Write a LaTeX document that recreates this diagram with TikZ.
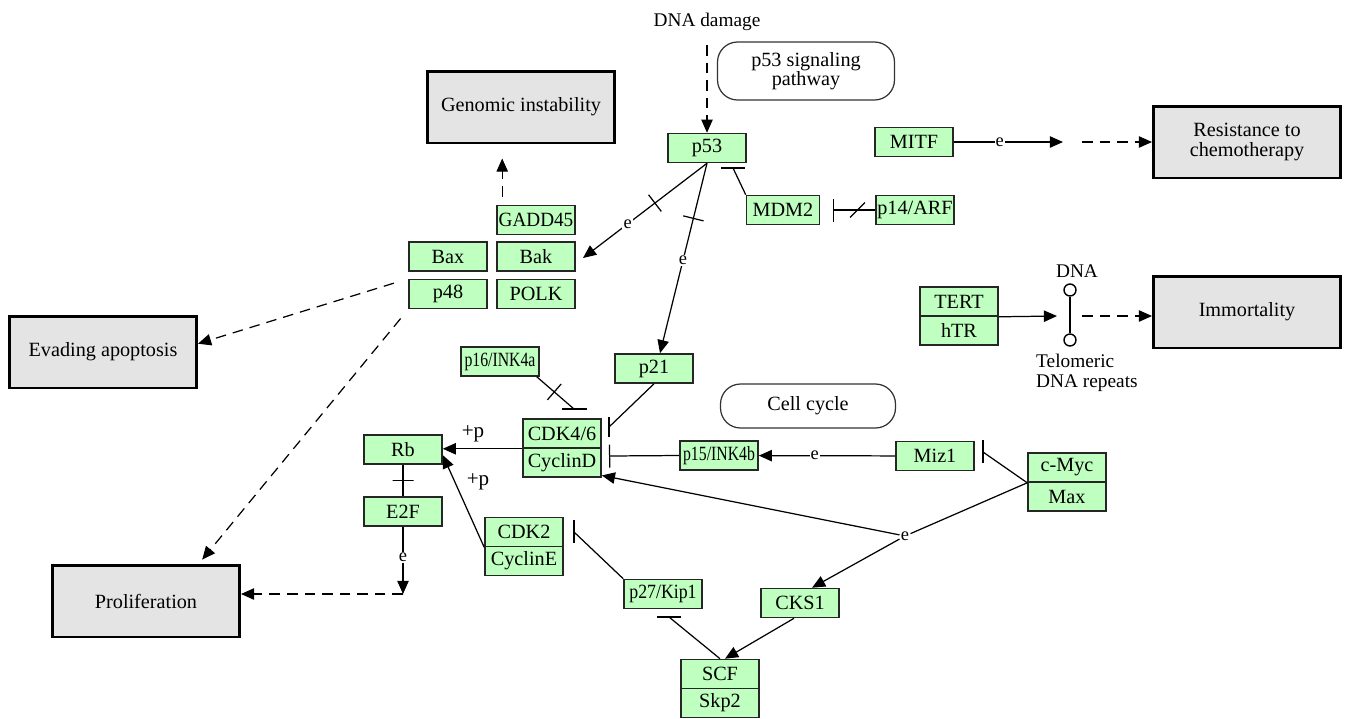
\documentclass[tikz,border=0pt]{standalone}
\usepackage{fontspec}
\usepackage{graphicx}
\setmainfont{Liberation Serif}
\usetikzlibrary{arrows.meta,calc}
\definecolor{genegreen}{RGB}{191,255,191}
\definecolor{outgray}{RGB}{228,228,228}
\tikzset{
  gene/.style={draw=black!85, line width=0.9pt, fill=genegreen, minimum width=1.56cm, minimum height=0.58cm, inner sep=0pt, font=\fontsize{11.5}{12}\selectfont},
  outcome/.style={draw, line width=1.7pt, fill=outgray, minimum width=3.74cm, minimum height=1.44cm, align=center, font=\fontsize{11.5}{11.5}\selectfont},
  pathmap/.style={draw=black!80, line width=0.7pt, rounded corners=0.4cm, align=center, font=\fontsize{11.5}{11}\selectfont},
  link/.style={line width=0.7pt},
  act/.style={link, -{Triangle[length=7.5pt,width=6.5pt]}},
  dashact/.style={act, dash pattern=on 6pt off 4pt},
  inhib/.style={link, -{Bar[width=0.46cm]}},
  elabel/.style={fill=white, inner sep=0.6pt, font=\fontsize{10.5}{10.5}\selectfont},
  tick/.style={sloped, draw, line width=0.7pt, minimum width=0pt, minimum height=0.42cm, inner sep=0pt},
  plain/.style={font=\fontsize{11}{11}\selectfont, align=center},
}
\newcommand{\squash}[2]{\scalebox{#1}[1]{#2}}
\begin{document}
\begin{tikzpicture}[x=0.02cm, y=-0.02cm]
\useasboundingbox (0,0) rectangle (1346,718);

% outcomes
\node[outcome] (genomic) at (521,107) {Genomic instability};
\node[outcome] (resist) at (1247,142) {Resistance to\\chemotherapy};
\node[outcome] (immortal) at (1247,312) {Immortality};
\node[outcome] (evading) at (103,352) {Evading apoptosis};
\node[outcome] (prolif) at (146,601) {Proliferation};

% pathway maps
\node[pathmap, minimum width=3.54cm, minimum height=1.16cm] (p53path) at (806,71) {p53 signaling\\pathway};
\node[pathmap, minimum width=3.5cm, minimum height=0.88cm] (cellcycle) at (808,406) {Cell cycle};

% genes
\node[gene] (p53) at (707,148) {p53};
\node[gene] (mitf) at (914,142) {MITF};
\node[gene, minimum width=1.46cm] (mdm2) at (783,210) {MDM2};
\node[gene] (p14) at (915,210) {p14/ARF};
\node[gene] (gadd45) at (536,220) {\squash{0.95}{GADD45}};
\node[gene] (bax) at (448,256.5) {Bax};
\node[gene] (bak) at (536,256.5) {Bak};
\node[gene] (p48) at (448,294) {p48};
\node[gene] (polk) at (536,294) {POLK};
\node[gene] (tert) at (959,301.5) {TERT};
\node[gene] (htr) at (959,330.5) {hTR};
\node[gene] (p21) at (654,368.5) {p21};
\node[gene] (p16) at (500,361.5) {\squash{0.78}{p16/INK4a}};
\node[gene] (cdk46) at (562,433.5) {CDK4/6};
\node[gene] (cycd) at (562,462.5) {CyclinD};
\node[gene] (rb) at (403,449.5) {Rb};
\node[gene] (e2f) at (403,511.5) {E2F};
\node[gene] (cdk2) at (524,532) {CDK2};
\node[gene] (cyce) at (524,561) {CyclinE};
\node[gene] (p15) at (719,455.5) {\squash{0.78}{p15/INK4b}};
\node[gene] (miz1) at (935,456) {Miz1};
\node[gene] (cmyc) at (1067,467.5) {c-Myc};
\node[gene] (max) at (1067,496.5) {Max};
\node[gene] (p27) at (663,594) {\squash{0.88}{p27/Kip1}};
\node[gene] (cks1) at (800,603) {CKS1};
\node[gene] (scf) at (720,674) {SCF};
\node[gene] (skp2) at (720,703) {Skp2};

% free texts
\node[plain] (dnadmg) at (707,22) {DNA damage};
\node[plain] (dnatxt) at (1077,271) {DNA};
\node[plain, align=left, anchor=west] (telo) at (1030,373) {Telomeric\\DNA repeats};
\node[font=\fontsize{12}{12}\selectfont] (plusa) at (473,434) {+p};
\node[font=\fontsize{12}{12}\selectfont] (plusb) at (478,482) {+p};

% telomeric DNA
\node[circle, draw, line width=0.8pt, minimum size=0.24cm, inner sep=0pt] (dnatop) at (1070,290) {};
\node[circle, draw, line width=0.8pt, minimum size=0.24cm, inner sep=0pt] (dnabot) at (1070,340) {};
\draw[link] (dnatop) -- (dnabot);

% free ends
\coordinate (mitftip) at (1063,142);
\coordinate (mitfgap) at (1082,142);
\coordinate (terttip) at (1057,316);
\coordinate (tertgap) at (1082,316);
\coordinate (baktip) at (583,258);
\coordinate (mdmbar) at (733,168);
\coordinate (p14bar) at (833,210);
\coordinate (p21bar) at (609,427);
\coordinate (p16bar) at (574,409);
\coordinate (p15bar) at (609,456);
\coordinate (p27bar) at (574,532);
\coordinate (scfbar) at (669,617);
\coordinate (mizbar) at (983,452);
\coordinate (e2fend) at (403,594);

% p53 block
\draw[dashact, shorten <=0.16cm] (dnadmg) -- (p53);
\draw[act] (p53.south) -- node[tick, pos=0.42] {} node[elabel, pos=0.64] {e} (baktip);
\draw[act] (p53.south) -- node[tick, pos=0.29] {} node[elabel, pos=0.51] {e} ([xshift=0.12cm]p21.north);
\draw[link] (mdm2.north west) -- (mdmbar);
\draw[link] (mdmbar) ++(-12,0) -- ++(24,0);
\draw[inhib] (p14.west) -- node[tick, pos=0.42, rotate=-45] {} (p14bar);
\draw[dashact, shorten <=0.16cm, shorten >=0.28cm] ([xshift=0.12cm]gadd45.north west) -- ([xshift=0.12cm]gadd45.north west |- genomic.south);
\draw[dashact, shorten <=0.3cm] (p48.north west) -- (evading.5);
\draw[dashact, shorten <=0.24cm, shorten >=0.1cm] (p48.south west) -- ([xshift=-0.84cm]prolif.north east);

% right side
\draw[act] (mitf) -- node[elabel, pos=0.42] {e} (mitftip);
\draw[dashact] (mitfgap) -- (resist);
\draw[act] (tert.south east) -- (terttip);
\draw[dashact] (tertgap) -- (tertgap -| immortal.west);

% cell cycle block
\draw[link] (p21.south) -- (p21bar);
\draw[link] (p21bar) ++(0,-10) -- ++(0,20);
\draw[link] ([xshift=-0.06cm]p16.south east) -- node[tick, pos=0.47] {} (p16bar);
\draw[link] (p16bar) ++(-12,0) -- ++(25,0);
\draw[inhib] (p15.west) -- (p15bar);
\draw[act] (miz1) -- node[elabel, pos=0.59] {e} (p15);
\draw[act] (cdk46.south west) -- (cdk46.south west -| rb.east);
\draw[act] (cdk2.south west) -- (rb.-8);
\draw[link] (rb) -- node[tick] {} (e2f);
\draw[act] (e2f) -- node[elabel, pos=0.46] {e} (e2fend);
\draw[dashact] (e2fend) -- (e2fend -| prolif.east);
\draw[link] (p27.north west) -- (p27bar);
\draw[link] (p27bar) ++(0,-12) -- ++(0,23);
\draw[link] (scf.north) -- (scfbar);
\draw[link] (scfbar) ++(-12,0) -- ++(24,0);
\draw[act] ([xshift=-0.12cm]cks1.south) -- ([xshift=0.1cm]scf.north);

% c-Myc/Max
\node[elabel] (jn) at (905,536) {e};
\draw[link] (cmyc.south west) -- (jn);
\draw[act] (jn) -- (cycd.-18);
\draw[act] (jn) -- ([xshift=0.24cm]cks1.north);
\draw[link] (cmyc.south west) -- (mizbar);
\draw[link] (mizbar) ++(0,-12) -- ++(0,23);
\end{tikzpicture}
\end{document}
